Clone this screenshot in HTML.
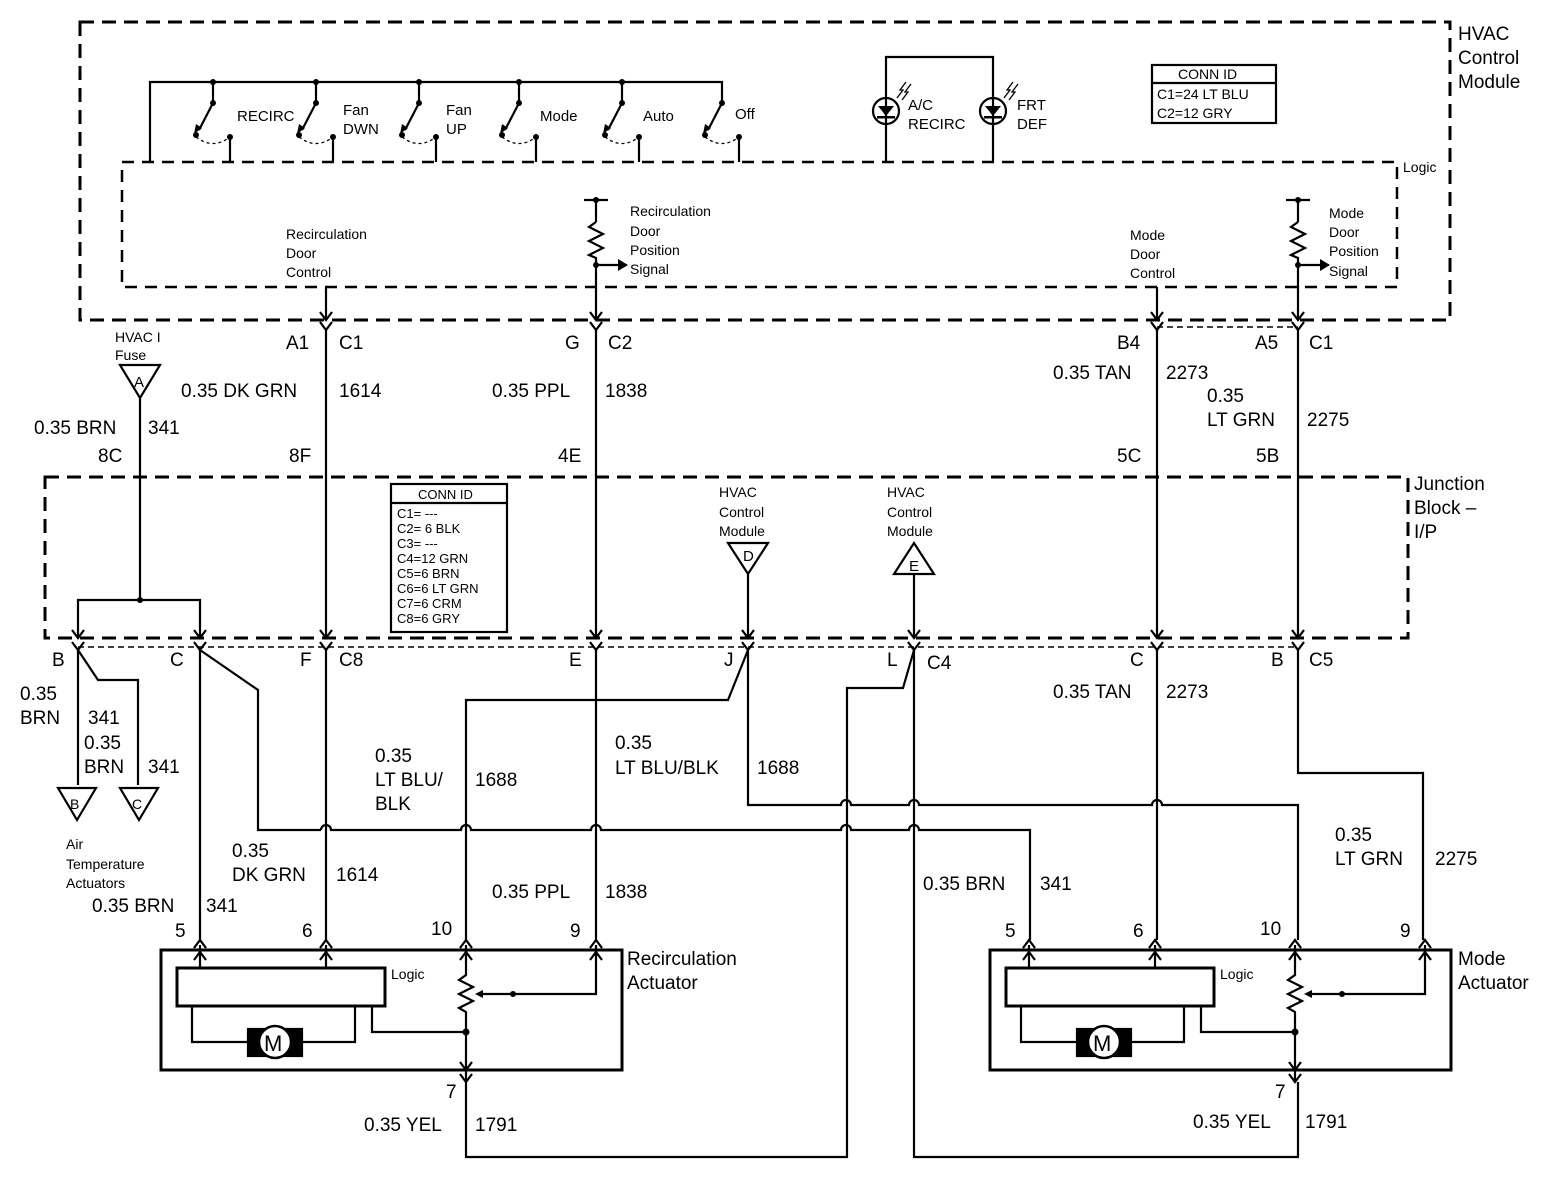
<!DOCTYPE html>
<html><head><meta charset="utf-8"><style>
html,body{margin:0;padding:0;background:#fff}
svg{display:block}
text{font-family:"Liberation Sans",Arial,sans-serif;fill:#000}
.L{font-size:19px}
.s{font-size:14px}
.m{font-size:15px}
.t{font-size:15px}
</style></head><body>
<svg width="1568" height="1190" viewBox="0 0 1568 1190" xmlns="http://www.w3.org/2000/svg">
<g fill="none" stroke="#000">
<rect x="80" y="22" width="1370" height="298" stroke-width="3" stroke-dasharray="14,8"/>
<rect x="122" y="162" width="1275" height="125" stroke-width="2.5" stroke-dasharray="12,8"/>
<rect x="45" y="477" width="1363" height="161" stroke-width="3" stroke-dasharray="14,8"/>
<line x1="1157" y1="327" x2="1298" y2="327" stroke-width="1.5" stroke-dasharray="6,4"/>
<line x1="78" y1="647" x2="1298" y2="647" stroke-width="1.5" stroke-dasharray="6,4"/>

<g stroke-width="2.2">
<polyline points="150,162 150,82 722,82 722,103"/>
<line x1="213" y1="82" x2="213" y2="103"/><line x1="316" y1="82" x2="316" y2="103"/><line x1="419" y1="82" x2="419" y2="103"/><line x1="519" y1="82" x2="519" y2="103"/><line x1="622" y1="82" x2="622" y2="103"/>
<line x1="213" y1="103" x2="199" y2="130"/><line x1="316" y1="103" x2="302" y2="130"/><line x1="419" y1="103" x2="405" y2="130"/><line x1="519" y1="103" x2="505" y2="130"/><line x1="622" y1="103" x2="608" y2="130"/><line x1="722" y1="103" x2="708" y2="130"/>
<line x1="230" y1="137" x2="230" y2="162"/><line x1="333" y1="137" x2="333" y2="162"/><line x1="436" y1="137" x2="436" y2="162"/><line x1="536" y1="137" x2="536" y2="162"/><line x1="639" y1="137" x2="639" y2="162"/><line x1="739" y1="137" x2="739" y2="162"/>
<polyline points="886,162 886,57 993,57 993,162"/>
<circle cx="886" cy="111" r="13"/><circle cx="993" cy="111" r="13"/>
<rect x="1152" y="65" width="124" height="58"/>
<line x1="1152" y1="83" x2="1276" y2="83"/>
<rect x="391" y="484" width="116" height="148"/>
<line x1="391" y1="503" x2="507" y2="503"/>

<line x1="326" y1="287" x2="326" y2="320"/>
<line x1="326" y1="330" x2="326" y2="638"/>
<line x1="596" y1="200" x2="596" y2="222"/>
<polyline points="596,222 589,227 603,234 589,241 603,248 589,255 596,258 596,320"/>
<line x1="584" y1="200" x2="608" y2="200"/>
<line x1="596" y1="265" x2="618" y2="265"/>
<line x1="596" y1="330" x2="596" y2="638"/>
<line x1="1157" y1="287" x2="1157" y2="320"/>
<line x1="1157" y1="330" x2="1157" y2="638"/>
<line x1="1298" y1="200" x2="1298" y2="222"/>
<polyline points="1298,222 1291,227 1305,234 1291,241 1305,248 1291,255 1298,258 1298,320"/>
<line x1="1286" y1="200" x2="1310" y2="200"/>
<line x1="1298" y1="265" x2="1320" y2="265"/>
<line x1="1298" y1="330" x2="1298" y2="638"/>
<polygon points="120,365 160,365 140,398"/>
<polyline points="140,398 140,600"/>
<polyline points="78,638 78,600 200,600 200,638"/>
<polygon points="728,543 768,543 748,574"/>
<line x1="748" y1="574" x2="748" y2="638"/>
<polygon points="894,574 934,574 914,543"/>
<line x1="914" y1="574" x2="914" y2="638"/>

<polyline points="78,650 78,785"/>
<polyline points="78,650 98,680 138,680 138,785"/>
<polygon points="58,788 96,788 77,820"/>
<polygon points="120,788 158,788 139,820"/>
<line x1="200" y1="650" x2="200" y2="940"/>
<polyline points="200,650 258,690 258,830 321,830"/>
<path d="M321,830 a5,5 0 0 1 10,0 L461,830 a5,5 0 0 1 10,0 L591,830 a5,5 0 0 1 10,0 L841,830 a5,5 0 0 1 10,0 L909,830 a5,5 0 0 1 10,0 L1030,830 L1030,940"/>
<line x1="326" y1="650" x2="326" y2="940"/>
<line x1="596" y1="650" x2="596" y2="940"/>
<polyline points="748,650 728,700 466,700 466,940"/>
<path d="M748,650 L748,805 L841,805 a5,5 0 0 1 10,0 L909,805 a5,5 0 0 1 10,0 L1152,805 a5,5 0 0 1 10,0 L1298,805 L1298,940"/>
<polyline points="914,650 903,688 847,688 847,1157 466,1157 466,1082"/>
<polyline points="914,650 914,1157 1298,1157 1298,1082"/>
<line x1="1157" y1="650" x2="1157" y2="940"/>
<polyline points="1298,650 1298,773 1423,773 1423,940"/>

<path d="M320,312 326,320 332,312 M320,322 326,330 332,322 M590,312 596,320 602,312 M590,322 596,330 602,322 M1151,312 1157,320 1163,312 M1151,322 1157,330 1163,322 M1292,312 1298,320 1304,312 M1292,322 1298,330 1304,322"/>
<path d="M72,630 78,638 84,630 M72,642 78,650 84,642 M194,630 200,638 206,630 M194,642 200,650 206,642 M320,630 326,638 332,630 M320,642 326,650 332,642 M590,630 596,638 602,630 M590,642 596,650 602,642 M742,630 748,638 754,630 M742,642 748,650 754,642 M908,630 914,638 920,630 M908,642 914,650 920,642 M1151,630 1157,638 1163,630 M1151,642 1157,650 1163,642 M1292,630 1298,638 1304,630 M1292,642 1298,650 1304,642"/>
</g>

<g id="act" stroke-width="2.2">
<rect x="161" y="950" width="461" height="120" stroke-width="3"/>
<rect x="177" y="968" width="208" height="38" stroke-width="3"/>
<polyline points="192,1006 192,1042 248,1042"/>
<polyline points="302,1042 355,1042 355,1006"/>
<rect x="248" y="1029" width="54" height="27" fill="#000"/>
<circle cx="275" cy="1042" r="16" fill="#fff" stroke-width="2.5"/>
<polyline points="372,1006 372,1032 466,1032"/>
<line x1="200" y1="945" x2="200" y2="968"/>
<line x1="326" y1="945" x2="326" y2="968"/>
<polyline points="466,945 466,975 459,980 473,987 459,994 473,1001 459,1008 466,1012 466,1080"/>
<polyline points="596,945 596,994 483,994"/>
<path d="M194,948 200,940 206,948 M194,960 200,952 206,960 M320,948 326,940 332,948 M320,960 326,952 332,960 M460,948 466,940 472,948 M460,960 466,952 472,960 M590,948 596,940 602,948 M590,960 596,952 602,960 M460,1062 466,1070 472,1062 M460,1074 466,1082 472,1074"/>
</g>
<use href="#act" x="829" y="0"/>
</g>

<g fill="#000">
<circle cx="213" cy="82" r="3"/><circle cx="316" cy="82" r="3"/><circle cx="419" cy="82" r="3"/><circle cx="519" cy="82" r="3"/><circle cx="622" cy="82" r="3"/>
<circle cx="213" cy="103" r="3"/><circle cx="316" cy="103" r="3"/><circle cx="419" cy="103" r="3"/><circle cx="519" cy="103" r="3"/><circle cx="622" cy="103" r="3"/><circle cx="722" cy="103" r="3"/>
<circle cx="196" cy="135" r="3"/><circle cx="299" cy="135" r="3"/><circle cx="402" cy="135" r="3"/><circle cx="502" cy="135" r="3"/><circle cx="605" cy="135" r="3"/><circle cx="705" cy="135" r="3"/>
<circle cx="230" cy="137" r="3"/><circle cx="333" cy="137" r="3"/><circle cx="436" cy="137" r="3"/><circle cx="536" cy="137" r="3"/><circle cx="639" cy="137" r="3"/><circle cx="739" cy="137" r="3"/>
<circle cx="596" cy="200" r="3"/><circle cx="596" cy="265" r="3"/><circle cx="1298" cy="200" r="3"/><circle cx="1298" cy="265" r="3"/>
<circle cx="140" cy="600" r="3"/>
<polygon points="618,259 628,265 618,271"/><polygon points="1320,259 1330,265 1320,271"/>
<circle cx="513" cy="994" r="3"/><circle cx="466" cy="1032" r="3.5"/>
<polygon points="483,990 475,994 483,998"/>
<circle cx="1342" cy="994" r="3"/><circle cx="1295" cy="1032" r="3.5"/>
<polygon points="1312,990 1304,994 1312,998"/>
<polygon points="194,134 196,124 202,128"/><polygon points="297,134 299,124 305,128"/><polygon points="400,134 402,124 408,128"/><polygon points="500,134 502,124 508,128"/><polygon points="603,134 605,124 611,128"/><polygon points="703,134 705,124 711,128"/>
<polygon points="878,106 894,106 886,116"/><rect x="877" y="116" width="18" height="2.5"/>
<polygon points="985,106 1001,106 993,116"/><rect x="984" y="116" width="18" height="2.5"/>
</g>
<g stroke="#000" stroke-width="1.3" fill="none">
<path d="M196,137 Q213,150 230,137 M299,137 Q316,150 333,137 M402,137 Q419,150 436,137 M502,137 Q519,150 536,137 M605,137 Q622,150 639,137 M705,137 Q722,150 739,137" stroke-dasharray="3,3"/>
<path d="M897,98 l6,-8 l-3,0 l6,-8 M902,100 l6,-8 l-3,0 l6,-8 M1004,98 l6,-8 l-3,0 l6,-8 M1009,100 l6,-8 l-3,0 l6,-8"/>
</g>

<g class="m">
<text x="237" y="121">RECIRC</text>
<text x="343" y="115">Fan</text><text x="343" y="134">DWN</text>
<text x="446" y="115">Fan</text><text x="446" y="134">UP</text>
<text x="540" y="121">Mode</text>
<text x="643" y="121">Auto</text>
<text x="735" y="119">Off</text>
<text x="908" y="110">A/C</text><text x="908" y="129">RECIRC</text>
<text x="1017" y="110">FRT</text><text x="1017" y="129">DEF</text>
</g>
<g class="s">
<text x="1178" y="79">CONN ID</text>
<text x="1157" y="99">C1=24 LT BLU</text>
<text x="1157" y="118">C2=12 GRY</text>
<text x="1403" y="172">Logic</text>
<text x="286" y="239">Recirculation</text><text x="286" y="258">Door</text><text x="286" y="277">Control</text>
<text x="630" y="216">Recirculation</text><text x="630" y="236">Door</text><text x="630" y="255">Position</text><text x="630" y="274">Signal</text>
<text x="1130" y="240">Mode</text><text x="1130" y="259">Door</text><text x="1130" y="278">Control</text>
<text x="1329" y="218">Mode</text><text x="1329" y="237">Door</text><text x="1329" y="256">Position</text><text x="1329" y="276">Signal</text>
<text x="115" y="342">HVAC I</text><text x="115" y="360">Fuse</text>
<text x="70" y="809">B</text><text x="132" y="809">C</text>
<text x="66" y="849">Air</text><text x="66" y="869">Temperature</text><text x="66" y="888">Actuators</text>
<text x="391" y="979">Logic</text><text x="1220" y="979">Logic</text>
<text x="719" y="497">HVAC</text><text x="719" y="517">Control</text><text x="719" y="536">Module</text>
<text x="887" y="497">HVAC</text><text x="887" y="517">Control</text><text x="887" y="536">Module</text>
</g>
<g class="t">
<text x="134" y="387">A</text>
<text x="743" y="561">D</text><text x="909" y="571">E</text>
</g>
<g style="font-size:13px">
<text x="418" y="499">CONN ID</text>
<text x="397" y="518">C1= ---</text>
<text x="397" y="533">C2= 6 BLK</text>
<text x="397" y="548">C3= ---</text>
<text x="397" y="563">C4=12 GRN</text>
<text x="397" y="578">C5=6 BRN</text>
<text x="397" y="593">C6=6 LT GRN</text>
<text x="397" y="608">C7=6 CRM</text>
<text x="397" y="623">C8=6 GRY</text>
</g>
<g style="font-size:22px">
<text x="264" y="1051">M</text><text x="1093" y="1051">M</text>
</g>
<g class="L">
<text x="1458" y="40">HVAC</text><text x="1458" y="64">Control</text><text x="1458" y="88">Module</text>
<text x="1414" y="490">Junction</text><text x="1414" y="514">Block –</text><text x="1414" y="538">I/P</text>
<text x="286" y="349">A1</text><text x="339" y="349">C1</text>
<text x="565" y="349">G</text><text x="608" y="349">C2</text>
<text x="1117" y="349">B4</text>
<text x="1255" y="349">A5</text><text x="1309" y="349">C1</text>
<text x="181" y="397">0.35 DK GRN</text><text x="339" y="397">1614</text>
<text x="492" y="397">0.35 PPL</text><text x="605" y="397">1838</text>
<text x="1053" y="379">0.35 TAN</text><text x="1166" y="379">2273</text>
<text x="1207" y="402">0.35</text><text x="1207" y="426">LT GRN</text><text x="1307" y="426">2275</text>
<text x="34" y="434">0.35 BRN</text><text x="148" y="434">341</text>
<text x="98" y="462">8C</text><text x="289" y="462">8F</text><text x="558" y="462">4E</text>
<text x="1117" y="462">5C</text><text x="1256" y="462">5B</text>
<text x="52" y="666">B</text><text x="170" y="666">C</text><text x="300" y="666">F</text><text x="339" y="666">C8</text>
<text x="569" y="666">E</text><text x="724" y="666">J</text><text x="887" y="666">L</text><text x="927" y="669">C4</text>
<text x="1130" y="666">C</text><text x="1271" y="666">B</text><text x="1309" y="666">C5</text>
<text x="20" y="700">0.35</text><text x="20" y="724">BRN</text><text x="88" y="724">341</text>
<text x="84" y="749">0.35</text><text x="84" y="773">BRN</text><text x="148" y="773">341</text>
<text x="1053" y="698">0.35 TAN</text><text x="1166" y="698">2273</text>
<text x="375" y="762">0.35</text><text x="375" y="786">LT BLU/</text><text x="475" y="786">1688</text><text x="375" y="810">BLK</text>
<text x="615" y="749">0.35</text><text x="615" y="774">LT BLU/BLK</text><text x="757" y="774">1688</text>
<text x="1335" y="841">0.35</text><text x="1335" y="865">LT GRN</text><text x="1435" y="865">2275</text>
<text x="232" y="857">0.35</text><text x="232" y="881">DK GRN</text><text x="336" y="881">1614</text>
<text x="923" y="890">0.35 BRN</text><text x="1040" y="890">341</text>
<text x="492" y="898">0.35 PPL</text><text x="605" y="898">1838</text>
<text x="92" y="912">0.35 BRN</text><text x="206" y="912">341</text>
<text x="175" y="937">5</text><text x="302" y="937">6</text><text x="431" y="935">10</text><text x="570" y="937">9</text>
<text x="1005" y="937">5</text><text x="1133" y="937">6</text><text x="1260" y="935">10</text><text x="1400" y="937">9</text>
<text x="627" y="965">Recirculation</text><text x="627" y="989">Actuator</text>
<text x="1458" y="965">Mode</text><text x="1458" y="989">Actuator</text>
<text x="446" y="1098">7</text><text x="1275" y="1098">7</text>
<text x="364" y="1131">0.35 YEL</text><text x="475" y="1131">1791</text>
<text x="1193" y="1128">0.35 YEL</text><text x="1305" y="1128">1791</text>
</g>
</svg>
</body></html>
